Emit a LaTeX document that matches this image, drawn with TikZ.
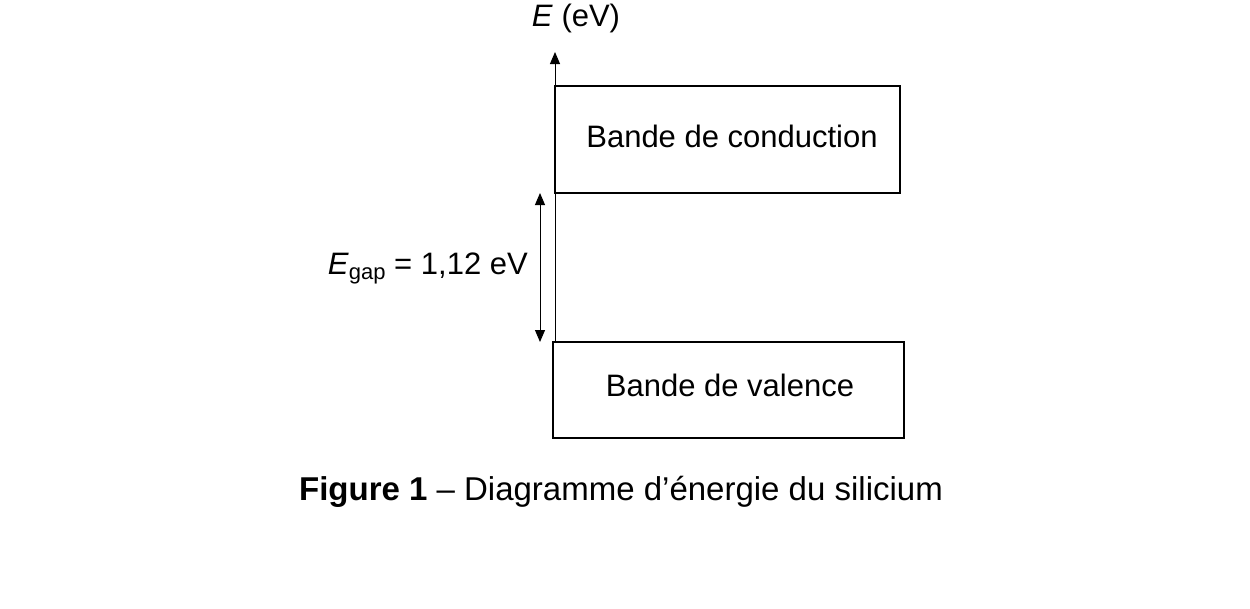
\documentclass[tikz,border=0pt]{standalone}
\usepackage{fontspec}
\setmainfont{Liberation Sans}
\usetikzlibrary{arrows.meta}

\begin{document}
\begin{tikzpicture}[x=1pt,y=-1pt,
  band/.style={draw,line width=1.3pt,inner sep=0pt},
  lbl/.style={inner sep=0pt,font=\fontsize{31}{36}\selectfont},
  tip/.style={-{Triangle[length=12pt,width=10pt]}}]
\useasboundingbox (0,0) rectangle (1250,608);

%bands
\draw[band] (555,86) rectangle (900,193);
\draw[band] (553,342) rectangle (904,438);
\node[lbl] (cond) at (732,136) {Bande de conduction};
\node[lbl] (val) at (730,385) {Bande de valence};

%energy axis
\coordinate (axbot) at (555,342);
\coordinate (axtop) at (555,52);
\draw[line width=1pt,tip] (axbot) -- (axtop);
\node[lbl,anchor=south] (axis) at (576,33) {\textit{E} (eV)};

%gap
\coordinate (gaptop) at (540,193);
\coordinate (gapbot) at (540,342);
\draw[line width=1pt,{Triangle[length=12pt,width=10pt]}-{Triangle[length=12pt,width=10pt]}] (gaptop) -- (gapbot);
\node[lbl,anchor=east] (gap) at (528,268) {\textit{E}{\fontsize{22}{26}\selectfont\raisebox{-5pt}{gap}} = 1,12 eV};

%caption
\node[inner sep=0pt,font=\fontsize{33}{38}\selectfont] (cap) at (621,492) {\textbf{Figure 1} -- Diagramme d’énergie du silicium};
\end{tikzpicture}
\end{document}
